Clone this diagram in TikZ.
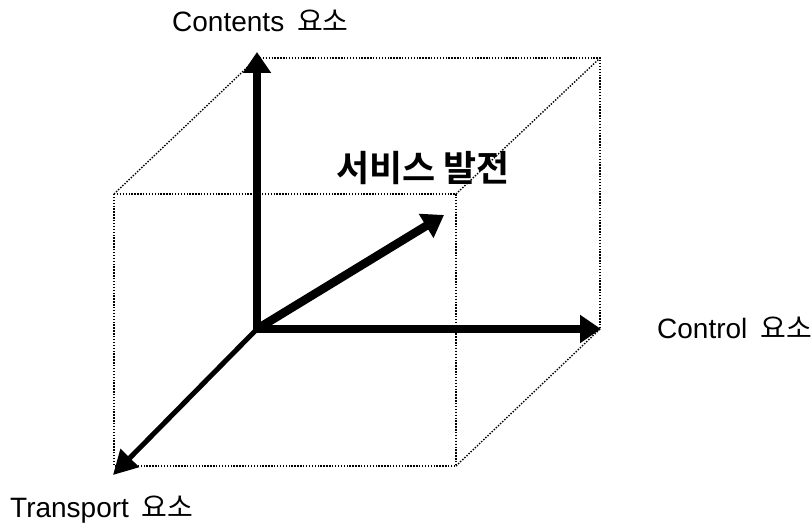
\documentclass[tikz,border=0pt]{standalone}
\usepackage{fontspec}
\setmainfont{Liberation Sans}
\newfontfamily\kr{Noto Sans CJK KR}[BoldFont={Noto Sans CJK KR Bold}]
\usetikzlibrary{arrows.meta}

\begin{document}
\begin{tikzpicture}[x=1pt,y=-1pt,
  every node/.style={font=\fontsize{28}{33}\selectfont,inner sep=0pt},
  edge/.style={line width=1.4pt,dash pattern=on 1.4pt off 1.5pt},
  axis/.style={line width=8.5pt,-{Triangle[length=21pt,width=27pt]}},
  thinaxis/.style={line width=5pt,-{Triangle[length=24pt,width=25pt]}}]
\useasboundingbox (0,0) rectangle (812,532);
% cube corners (back face, front face)
\coordinate (O)  at (257,329);
\coordinate (b1) at (257,58);  \coordinate (b2) at (600,58);  \coordinate (b3) at (600,329);
\coordinate (f1) at (114,194); \coordinate (f2) at (456,194); \coordinate (f3) at (456,466); \coordinate (f4) at (114,466);
\draw[edge] (f1) -- (f2) -- (f3) -- (f4) -- cycle;
\draw[edge] (b1) -- (b2) -- (b3);
\draw[edge] (f1) -- (b1);
\draw[edge] (f2) -- (b2);
\draw[edge] (f3) -- (b3);
% axis tips
\coordinate (tcont) at (257,52);
\coordinate (tctrl) at (601,329);
\coordinate (ttran) at (113,475);
\coordinate (tserv) at (444,215);
\draw[axis] (O) -- (tcont);
\draw[axis] (O) -- (tctrl);
\draw[axis] (O) -- (tserv);
\draw[thinaxis] (O) -- (ttran);
% labels
\node[anchor=base west] (contents)  at (172,32)  {Contents\hspace{5pt} {\kr 요소}};
\node[anchor=base west] (control)   at (657,338) {Control\hspace{5pt} {\kr 요소}};
\node[anchor=base west] (transport) at (10,517)  {Transport\hspace{5pt} {\kr 요소}};
\node (service) at (423,168) {\kr\bfseries\fontsize{36}{42}\selectfont 서비스 발전};
\end{tikzpicture}
\end{document}
